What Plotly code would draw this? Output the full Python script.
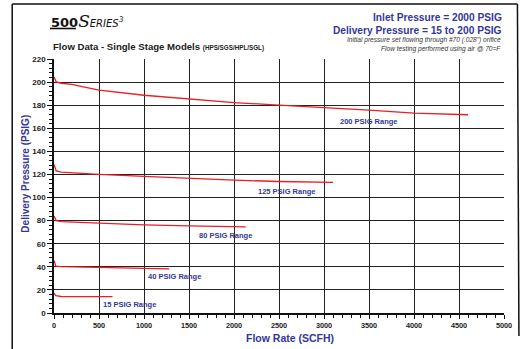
import plotly.graph_objects as go

# ---- data ----
flow_200 = [0, 25, 80, 200, 300, 500, 1000, 1500, 2000, 2500, 3000, 3500, 4000, 4600]
p_200 = [204.5, 200.2, 199, 198, 196.3, 193, 188.6, 185.6, 182.3, 180, 178, 175.7, 173.1, 171.7]

flow_125 = [0, 25, 80, 500, 1000, 1500, 2000, 2500, 3100]
p_125 = [128.7, 123, 122, 120, 118.3, 116.5, 115.1, 113.9, 113.1]

flow_80 = [0, 25, 80, 500, 1000, 1500, 2130]
p_80 = [84, 80, 79.1, 77.7, 76.3, 75.4, 74.6]

flow_40 = [0, 20, 80, 500, 1000, 1280]
p_40 = [45.5, 40.6, 40.2, 39.6, 38.8, 38.2]

flow_15 = [0, 20, 80, 650]
p_15 = [17.2, 15, 14.3, 14.2]

range_labels = ["200 PSIG Range", "125 PSIG Range", "80 PSIG Range", "40 PSIG Range", "15 PSIG Range"]
label_x = [3496, 2592, 1908, 1338, 840]
label_y = [165.8, 105.4, 67.5, 31.6, 7.2]

x_ticks = [0, 500, 1000, 1500, 2000, 2500, 3000, 3500, 4000, 4500, 5000]
y_ticks = [0, 20, 40, 60, 80, 100, 120, 140, 160, 180, 200, 220]

RED = "#ee1c24"
BLUE = "#34369c"
FONT = "Arial, Liberation Sans, sans-serif"

fig = go.Figure()
for fx, py in [(flow_200, p_200), (flow_125, p_125), (flow_80, p_80), (flow_40, p_40), (flow_15, p_15)]:
    fig.add_trace(go.Scatter(x=fx, y=py, mode="lines", line=dict(color=RED, width=1.3),
                             showlegend=False, hoverinfo="skip"))

for t, lx, ly in zip(range_labels, label_x, label_y):
    fig.add_annotation(x=lx, y=ly, xref="x", yref="y", text="<b>" + t + "</b>", showarrow=False,
                       font=dict(family=FONT, size=7.5, color=BLUE))

W, H = 524, 349
L, R, T, B = 54, 18, 59, 36
pw, ph = W - L - R, H - T - B


def px(xp):
    return (xp - L) / pw


def py_(yp):
    return (H - B - yp) / ph


# titles / header texts
fig.add_annotation(xref="paper", yref="paper", x=px(49), y=py_(21), xanchor="left", yanchor="middle",
                   text="<b>500</b><span style='font-family:DejaVu Serif;font-style:italic;font-size:17px'>S</span>"
                        "<span style='font-family:DejaVu Sans;font-style:italic;font-size:10px'>ERIES</span>"
                        "<span style='font-family:DejaVu Sans;font-style:italic;font-size:11px'><sup>3</sup></span>",
                   showarrow=False, font=dict(family="DejaVu Sans", size=13, color="#111"))
fig.add_annotation(xref="paper", yref="paper", x=px(51), y=py_(46), xanchor="left", yanchor="middle",
                   text="<b>Flow Data - Single Stage Models <span style='font-size:6.3px'>(HPS/SGS/HPL/SGL)</span></b>",
                   showarrow=False, font=dict(family=FONT, size=9.6, color="#222"))
fig.add_annotation(xref="paper", yref="paper", x=px(506), y=py_(17), xanchor="right", yanchor="middle",
                   text="<b>Inlet Pressure = 2000 PSIG</b>", showarrow=False,
                   font=dict(family=FONT, size=10.2, color=BLUE))
fig.add_annotation(xref="paper", yref="paper", x=px(506), y=py_(30.5), xanchor="right", yanchor="middle",
                   text="<b>Delivery Pressure = 15 to 200 PSIG</b>", showarrow=False,
                   font=dict(family=FONT, size=10.2, color=BLUE))
fig.add_annotation(xref="paper", yref="paper", x=px(505), y=py_(40), xanchor="right", yanchor="middle",
                   text="<i>Initial pressure set flowing through #70 (.028\") orifice</i>", showarrow=False,
                   font=dict(family=FONT, size=6.6, color="#333"))
fig.add_annotation(xref="paper", yref="paper", x=px(505), y=py_(49), xanchor="right", yanchor="middle",
                   text="<i>Flow testing performed using air @ 70=F</i>", showarrow=False,
                   font=dict(family=FONT, size=6.6, color="#333"))

# axis titles
fig.add_annotation(xref="paper", yref="paper", x=px(25), y=py_(173.5), xanchor="center", yanchor="middle",
                   text="<b>Delivery Pressure (PSIG)</b>", textangle=-90, showarrow=False,
                   font=dict(family=FONT, size=10, color=BLUE))
fig.add_annotation(xref="paper", yref="paper", x=px(291), y=py_(338), xanchor="center", yanchor="middle",
                   text="<b>Flow Rate (SCFH)</b>", showarrow=False,
                   font=dict(family=FONT, size=10.5, color=BLUE))

# frame lines & underline
fig.add_shape(type="line", xref="paper", yref="paper", x0=px(12), x1=px(12), y0=py_(4), y1=py_(352),
              line=dict(color="#111", width=1.5))
fig.add_shape(type="line", xref="paper", yref="paper", x0=px(12), x1=px(519.5), y0=py_(4), y1=py_(4),
              line=dict(color="#111", width=1.5))
fig.add_shape(type="line", xref="paper", yref="paper", x0=px(519.5), x1=px(521), y0=py_(4), y1=py_(336),
              line=dict(color="#111", width=1.5))
fig.add_shape(type="line", xref="paper", yref="paper", x0=px(50), x1=px(76), y0=py_(28.5), y1=py_(28.5),
              line=dict(color="#111", width=1.6))

fig.update_xaxes(range=[0, 5000], tickvals=x_ticks, ticktext=[str(v) for v in x_ticks],
                 showgrid=True, gridcolor="#222", gridwidth=1.3, zeroline=False,
                 showline=True, linecolor="#111", linewidth=1.5,
                 ticks="outside", ticklen=4, tickcolor="#111", tickwidth=1,
                 minor=dict(dtick=100, ticks="outside", ticklen=3, tickcolor="#111", showgrid=False),
                 tickfont=dict(family=FONT, size=7.3, color="#222", weight="bold"), fixedrange=True)
fig.update_yaxes(range=[0, 220], tickvals=y_ticks, ticktext=[str(v) for v in y_ticks],
                 showgrid=True, gridcolor="#222", gridwidth=1.3, zeroline=False,
                 showline=True, linecolor="#111", linewidth=1.5,
                 ticks="outside", ticklen=5, tickcolor="#111", tickwidth=1,
                 minor=dict(dtick=4, ticks="outside", ticklen=3, tickcolor="#111", showgrid=False),
                 tickfont=dict(family=FONT, size=8, color="#222", weight="bold"), fixedrange=True)

fig.update_layout(width=W, height=H, margin=dict(l=L, r=R, t=T, b=B, pad=0),
                  paper_bgcolor="white", plot_bgcolor="white", showlegend=False)

fig.write_html("out.html", config={"displayModeBar": False},
               post_script="document.body.style.margin='0';document.body.style.overflow='hidden';")
